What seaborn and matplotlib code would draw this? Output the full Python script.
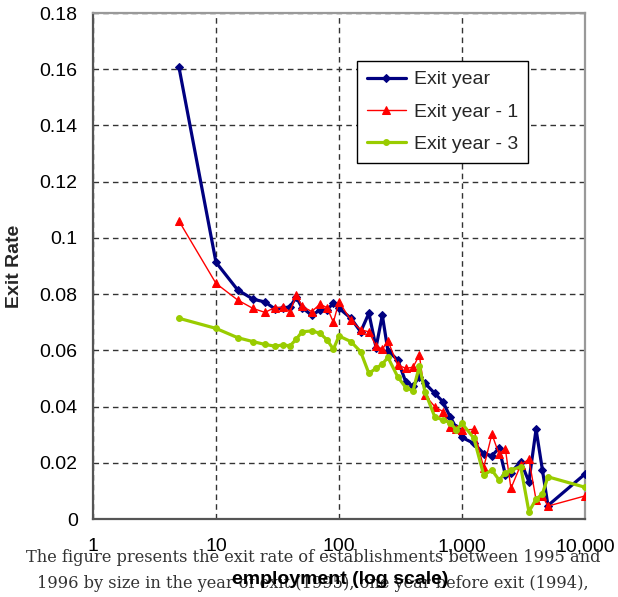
import matplotlib
matplotlib.use("Agg")
import matplotlib.pyplot as plt
import seaborn as sns
import pandas as pd

# ---- data ----
sizes = [5, 10, 15, 20, 25, 30, 35, 40, 45, 50, 60, 70, 80, 90, 100,
         125, 150, 175, 200, 225, 250, 300, 350, 400, 450, 500, 600, 700,
         800, 900, 1000, 1250, 1500, 1750, 2000, 2250, 2500, 3000, 3500,
         4000, 4500, 5000, 10000]

exit_year = [0.1607, 0.0913, 0.0815, 0.0782, 0.0772, 0.0748, 0.0750, 0.0755,
             0.0789, 0.0752, 0.0725, 0.0743, 0.0745, 0.0767, 0.0750, 0.0714,
             0.0666, 0.0732, 0.0610, 0.0725, 0.0598, 0.0566, 0.0486, 0.0474,
             0.0506, 0.0483, 0.0447, 0.0417, 0.0364, 0.0323, 0.0290, 0.0269,
             0.0233, 0.0225, 0.0252, 0.0158, 0.0165, 0.0204, 0.0133, 0.0319,
             0.0176, 0.0048, 0.0160]

exit_year_1 = [0.1060, 0.0838, 0.0779, 0.0749, 0.0735, 0.0752, 0.0753, 0.0738,
               0.0797, 0.0757, 0.0738, 0.0764, 0.0752, 0.0700, 0.0773, 0.0707,
               0.0673, 0.0666, 0.0615, 0.0604, 0.0633, 0.0548, 0.0536, 0.0540,
               0.0583, 0.0441, 0.0400, 0.0382, 0.0326, 0.0320, 0.0316, 0.0319,
               0.0183, 0.0302, 0.0231, 0.0250, 0.0109, 0.0192, 0.0213, 0.0068,
               0.0082, 0.0046, 0.0082]

exit_year_3 = [0.0714, 0.0678, 0.0645, 0.0631, 0.0621, 0.0615, 0.0619, 0.0616,
               0.0640, 0.0666, 0.0669, 0.0661, 0.0637, 0.0604, 0.0651, 0.0631,
               0.0595, 0.0518, 0.0536, 0.0551, 0.0575, 0.0506, 0.0467, 0.0456,
               0.0544, 0.0453, 0.0364, 0.0352, 0.0343, 0.0317, 0.0340, 0.0287,
               0.0157, 0.0174, 0.0139, 0.0163, 0.0174, 0.0186, 0.0026, 0.0070,
               0.0089, 0.0150, 0.0113]

series_labels = ["Exit year", "Exit year - 1", "Exit year - 3"]
x_ticks = [1, 10, 100, 1000, 10000]
x_tick_labels = ["1", "10", "100", "1,000", "10,000"]
y_ticks = [0, 0.02, 0.04, 0.06, 0.08, 0.1, 0.12, 0.14, 0.16, 0.18]
y_tick_labels = ["0", "0.02", "0.04", "0.06", "0.08", "0.1", "0.12", "0.14", "0.16", "0.18"]
x_label = "employment (log scale)"
y_label = "Exit Rate"
caption_1 = "The figure presents the exit rate of establishments between 1995 and"
caption_2 = "1996 by size in the year of exit (1995), one year before exit (1994),"

# ---- styling ----
sns.set_style("white")
plt.rcParams["font.family"] = ["Liberation Sans", "DejaVu Sans"]

fig = plt.figure(figsize=(6.18, 5.97), dpi=100)
ax = fig.add_axes([93 / 618, 78 / 597, 492 / 618, 506 / 597])

df = pd.DataFrame({"size": sizes, "a": exit_year, "b": exit_year_1, "c": exit_year_3})

styles = [
    ("a", series_labels[0], "#000080", "D", 4.0, 2.3),
    ("b", series_labels[1], "#FF0000", "^", 6.0, 1.0),
    ("c", series_labels[2], "#99CC00", "o", 4.2, 2.3),
]
for col, lab, colr, mk, ms, lw in styles:
    sns.lineplot(data=df, x="size", y=col, ax=ax, color=colr, marker=mk,
                 markersize=ms, linewidth=lw, markeredgecolor=colr,
                 label=lab, zorder=3)

ax.set_xscale("log")
ax.set_xlim(1, 10000)
ax.set_ylim(0, 0.18)
ax.set_xticks(x_ticks)
ax.set_xticklabels(x_tick_labels)
ax.minorticks_off()
ax.xaxis.set_minor_locator(matplotlib.ticker.NullLocator())
ax.set_yticks(y_ticks)
ax.set_yticklabels(y_tick_labels)
ax.tick_params(axis="both", which="major", direction="out", length=6,
               width=1.2, color="#555555", labelsize=14, labelcolor="black")
ax.tick_params(axis="x", pad=8)
ax.tick_params(axis="y", pad=5)

ax.grid(True, which="major", axis="both", color="#333333", linestyle=(0, (4, 3)),
        linewidth=1.0)
ax.set_axisbelow(True)

for side in ["left", "bottom"]:
    ax.spines[side].set_color("#555555")
    ax.spines[side].set_linewidth(1.6)
for side in ["top", "right"]:
    ax.spines[side].set_color("#999999")
    ax.spines[side].set_linewidth(1.6)
    ax.spines[side].set_visible(True)

ax.set_xlabel("")
ax.set_ylabel(y_label, fontsize=14, fontweight="bold", labelpad=12)

leg = ax.legend(loc="upper left", bbox_to_anchor=(0.537, 0.905), fontsize=14,
                frameon=True, fancybox=False, shadow=False, framealpha=1,
                edgecolor="black", handlelength=2.0, labelspacing=0.75,
                borderpad=0.5, handletextpad=0.4, borderaxespad=0)
leg.get_frame().set_linewidth(1.0)
leg.set_zorder(5)

fig.text(313 / 618, 1 - 557 / 597, caption_1, ha="center", va="center",
         family="DejaVu Serif", fontsize=11.7, color="#333333")
fig.text(313 / 618, 1 - 583 / 597, caption_2, ha="center", va="center",
         family="DejaVu Serif", fontsize=11.7, color="#333333")
fig.text(340 / 618, 1 - 579 / 597, x_label, ha="center", va="center",
         fontsize=14, fontweight="bold", color="black")

fig.savefig("out.png", dpi=100)
